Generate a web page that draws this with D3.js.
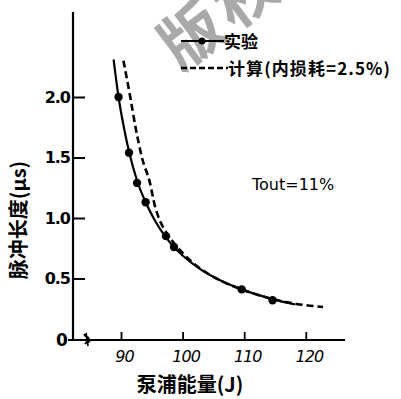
<!DOCTYPE html>
<html>
<head>
<meta charset="utf-8">
<script src="https://cdn.jsdelivr.net/npm/d3@7"></script>
<style>
  html, body { margin: 0; padding: 0; background: #fff; }
  svg { display: block; }
  text { font-family: "Noto Sans CJK SC", "DejaVu Sans", sans-serif; fill: #000; }
</style>
</head>
<body>
<svg id="chart" width="401" height="399"></svg>
<script>
// Pump energy (J) vs. pulse length (µs)
const xTicks = [90, 100, 110, 120];
const yTicks = [0.5, 1.0, 1.5, 2.0];
const yTickLabels = ["0.5", "1.0", "1.5", "2.0"];

// measured points
const measE = [89.6, 91.3, 92.6, 94.0, 97.3, 98.6, 109.6, 114.6];
const measT = [2.0, 1.54, 1.29, 1.13, 0.85, 0.76, 0.41, 0.32];

// fitted experimental curve
const fitE = [88.8, 89.6, 90.5, 91.3, 92.6, 94.0, 95.5, 97.3, 98.6, 100, 102.8, 105.5, 109.6, 114.6, 118.3];
const fitT = [2.31, 2.0, 1.74, 1.55, 1.31, 1.13, 0.98, 0.84, 0.76, 0.69, 0.58, 0.50, 0.41, 0.33, 0.285];

// calculated curve (internal loss 2.5%)
const calcE = [90.4, 91.5, 92.4, 93.4, 94.7, 95.5, 96.3, 97.5, 98.8, 100.2, 102.8, 105.5, 109.6, 114.6, 118.5, 122.8];
const calcT = [2.30, 2.0, 1.74, 1.50, 1.29, 1.10, 0.98, 0.87, 0.78, 0.70, 0.585, 0.50, 0.41, 0.33, 0.29, 0.265];

const svg = d3.select("#chart");
const x = d3.scaleLinear().domain([90, 120]).range([121, 305.8]);
const y = d3.scaleLinear().domain([0, 2]).range([339, 97]);

// faint watermark
svg.append("text")
  .attr("transform", "translate(180,72) rotate(-37)")
  .attr("font-size", 62)
  .attr("font-weight", 700)
  .style("fill", "#a9a9a9")
  .style("letter-spacing", "6px")
  .text("版权");

// y axis
svg.append("line").attr("x1", 73).attr("x2", 73).attr("y1", 12).attr("y2", 341)
  .attr("stroke", "#000").attr("stroke-width", 2.2);
const yAxis = d3.axisLeft(y).tickValues(yTicks).tickSize(-12).tickPadding(3)
  .tickFormat((d, i) => yTickLabels[i]);
const gy = svg.append("g").attr("transform", "translate(73,0)").call(yAxis);
gy.select(".domain").remove();
gy.selectAll(".tick line").attr("stroke", "#000").attr("stroke-width", 2);
gy.selectAll(".tick text").attr("font-size", 16).attr("font-weight", 700)
  .attr("x", -3).style("font-family", "'DejaVu Sans', sans-serif").style("letter-spacing", "-1px");

// x axis
svg.append("line").attr("x1", 68).attr("x2", 345).attr("y1", 340).attr("y2", 340)
  .attr("stroke", "#000").attr("stroke-width", 2.2);
const xAxis = d3.axisBottom(x).tickValues(xTicks).tickSize(-8).tickPadding(11)
  .tickFormat(d3.format("d"));
const gx = svg.append("g").attr("transform", "translate(0,340)").call(xAxis);
gx.select(".domain").remove();
gx.selectAll(".tick line").attr("stroke", "#000").attr("stroke-width", 1.8);
gx.selectAll(".tick text").attr("font-size", 16).attr("font-style", "italic")
  .attr("dx", 3).style("font-family", "'DejaVu Sans', sans-serif").style("letter-spacing", "-1px");

// origin label and axis break
svg.append("text").attr("x", 62).attr("y", 346).attr("text-anchor", "middle")
  .attr("font-size", 17).attr("font-weight", 700)
  .style("font-family", "'DejaVu Sans', sans-serif").text("0");
svg.append("path")
  .attr("d", "M84,334 C86,338 88,336 89,339 M85,344 C87,340 88,343 90,341 M86,333 L88,346")
  .attr("fill", "none").attr("stroke", "#000").attr("stroke-width", 1.8);

// curves
const line = d3.line().x(d => x(d[0])).y(d => y(d[1])).curve(d3.curveMonotoneX);
svg.append("path").datum(calcE.map((e, i) => [e, calcT[i]]))
  .attr("d", line).attr("fill", "none").attr("stroke", "#000")
  .attr("stroke-width", 2.6).attr("stroke-dasharray", "7,4");
svg.append("path").datum(fitE.map((e, i) => [e, fitT[i]]))
  .attr("d", line).attr("fill", "none").attr("stroke", "#000").attr("stroke-width", 2.2);
svg.selectAll("circle.pt").data(measE.map((e, i) => [e, measT[i]])).enter()
  .append("circle").attr("class", "pt")
  .attr("cx", d => x(d[0])).attr("cy", d => y(d[1])).attr("r", 4.2).attr("fill", "#000");

// legend
svg.append("line").attr("x1", 181).attr("x2", 224).attr("y1", 41).attr("y2", 41)
  .attr("stroke", "#000").attr("stroke-width", 2.2);
svg.append("circle").attr("cx", 202).attr("cy", 41).attr("r", 3.5).attr("fill", "#000");
svg.append("text").attr("x", 224).attr("y", 48).attr("font-size", 17).attr("font-weight", 700).text("实验");
svg.append("line").attr("x1", 181).attr("x2", 228).attr("y1", 68).attr("y2", 68)
  .attr("stroke", "#000").attr("stroke-width", 2.6).attr("stroke-dasharray", "6,3");
svg.append("text").attr("x", 228).attr("y", 75).attr("font-size", 17).attr("font-weight", 700)
  .attr("textLength", 162).text("计算(内损耗=2.5%)");

// annotation
svg.append("text").attr("x", 252).attr("y", 190).attr("font-size", 16)
  .style("font-family", "'DejaVu Sans', sans-serif").text("Tout=11%");

// axis titles
svg.append("text").attr("transform", "translate(26,220) rotate(-90)")
  .attr("text-anchor", "middle").attr("font-size", 20).attr("font-weight", 700)
  .text("脉冲长度(μs)");
svg.append("text").attr("x", 190).attr("y", 392).attr("text-anchor", "middle")
  .attr("font-size", 20).attr("font-weight", 700).text("泵浦能量(J)");
</script>
</body>
</html>
